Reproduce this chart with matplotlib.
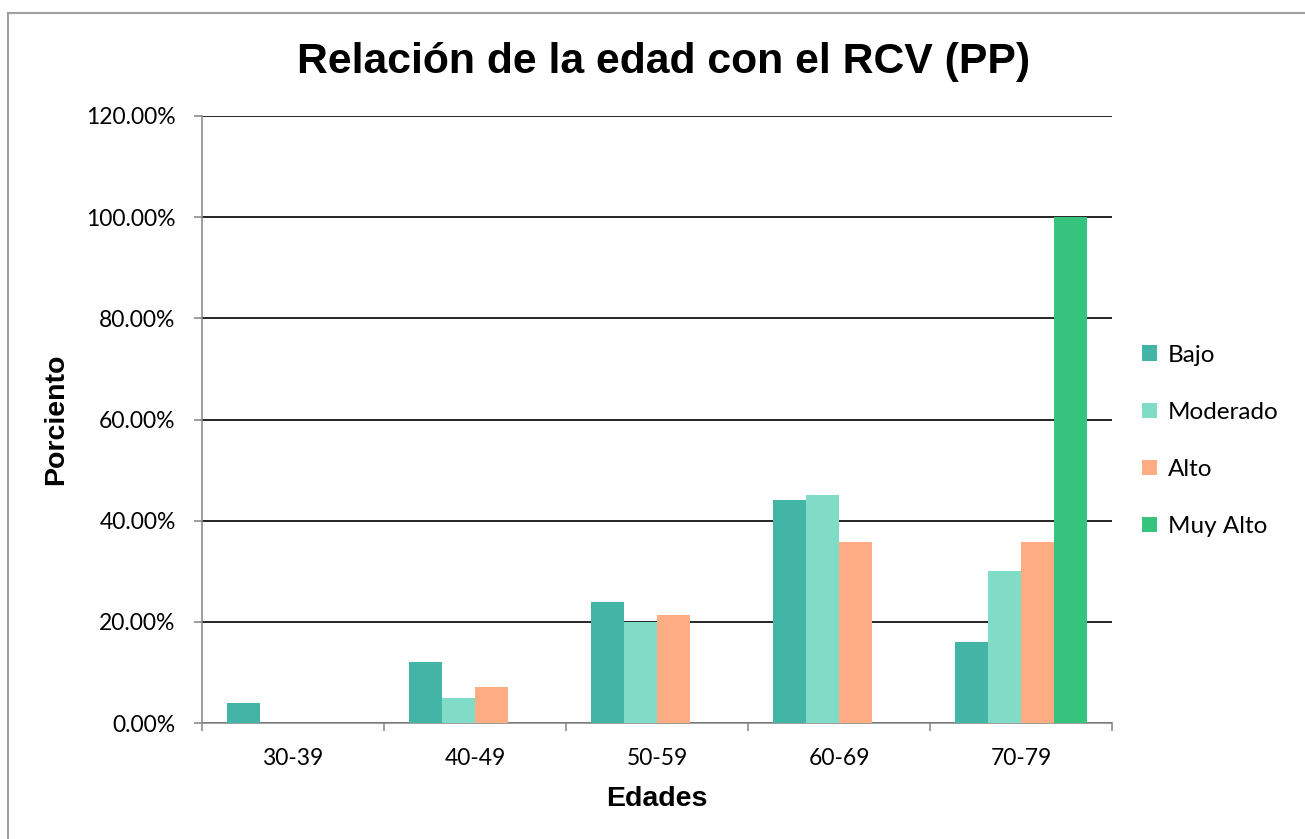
import numpy as np
import matplotlib.pyplot as plt
from matplotlib.lines import Line2D
from matplotlib.ticker import FuncFormatter, FixedLocator

# Data
edades = ["30-39", "40-49", "50-59", "60-69", "70-79"]
bajo = [4.0, 12.0, 24.0, 44.0, 16.0]
moderado = [0.0, 5.0, 20.0, 45.0, 30.0]
alto = [0.0, 7.14, 21.43, 35.71, 35.71]
muy_alto = [0.0, 0.0, 0.0, 0.0, 100.0]
series_names = ["Bajo", "Moderado", "Alto", "Muy Alto"]
colors = ["#43B5A6", "#80DCC6", "#FDAC84", "#36C37E"]

tick_font = "Lato"
bold_font = "Liberation Sans"

fig = plt.figure(figsize=(13.05, 8.39), dpi=100)
ax = fig.add_axes([202 / 1305, 1 - 723 / 839, 910 / 1305, 607 / 839])

x = np.arange(len(edades))
w = 0.18
all_series = [bajo, moderado, alto, muy_alto]
for i, (vals, name, col) in enumerate(zip(all_series, series_names, colors)):
    ax.bar(x + (i - 1.5) * w, vals, width=w, color=col, label=name, zorder=3)

ax.set_xlim(-0.5, len(edades) - 0.5)
ax.set_ylim(0, 120)
ax.set_yticks(np.arange(0, 121, 20))
ax.yaxis.set_major_formatter(FuncFormatter(lambda v, p: f"{v:.2f}%"))
ax.yaxis.grid(True, color="black", linewidth=1.2, zorder=1)

ax.set_xticks(x)
ax.set_xticklabels(edades)
ax.xaxis.set_minor_locator(FixedLocator(np.arange(-0.5, len(edades), 1.0)))
ax.tick_params(axis="x", which="major", length=0, pad=18)
ax.tick_params(axis="x", which="minor", length=6, color="#8c8c8c", width=1.2)
ax.tick_params(axis="y", length=6, color="#8c8c8c", width=1.2, pad=13)

for lbl in ax.get_xticklabels() + ax.get_yticklabels():
    lbl.set_fontfamily(tick_font)
    lbl.set_fontsize(16.5)

for s in ["top", "right"]:
    ax.spines[s].set_visible(False)
for s in ["left", "bottom"]:
    ax.spines[s].set_color("#8c8c8c")
    ax.spines[s].set_linewidth(1.2)

ax.set_xlabel("Edades", fontfamily=bold_font, fontweight="bold", fontsize=20.5, labelpad=12)
ax.set_ylabel("Porciento", fontfamily=bold_font, fontweight="bold", fontsize=20.5, labelpad=12)

fig.text(664 / 1305, 1 - 62 / 839, "Relación de la edad con el RCV (PP)",
         ha="center", va="center", fontfamily=bold_font, fontweight="bold", fontsize=30.8)

leg = fig.legend(loc="center left", bbox_to_anchor=(1142 / 1305, 1 - 441 / 839),
                 frameon=False, handlelength=0.6, handleheight=0.6,
                 handletextpad=0.45, labelspacing=1.49, borderpad=0, borderaxespad=0,
                 prop={"family": tick_font, "size": 17.5})

# outer chart border (left and top visible)
fig.add_artist(Line2D([8 / 1305, 8 / 1305], [0, 1 - 13 / 839], transform=fig.transFigure,
                      color="#a0a0a0", linewidth=1.5))
fig.add_artist(Line2D([8 / 1305, 1], [1 - 13 / 839, 1 - 13 / 839], transform=fig.transFigure,
                      color="#a0a0a0", linewidth=1.5))

fig.savefig("out.png", dpi=100)
